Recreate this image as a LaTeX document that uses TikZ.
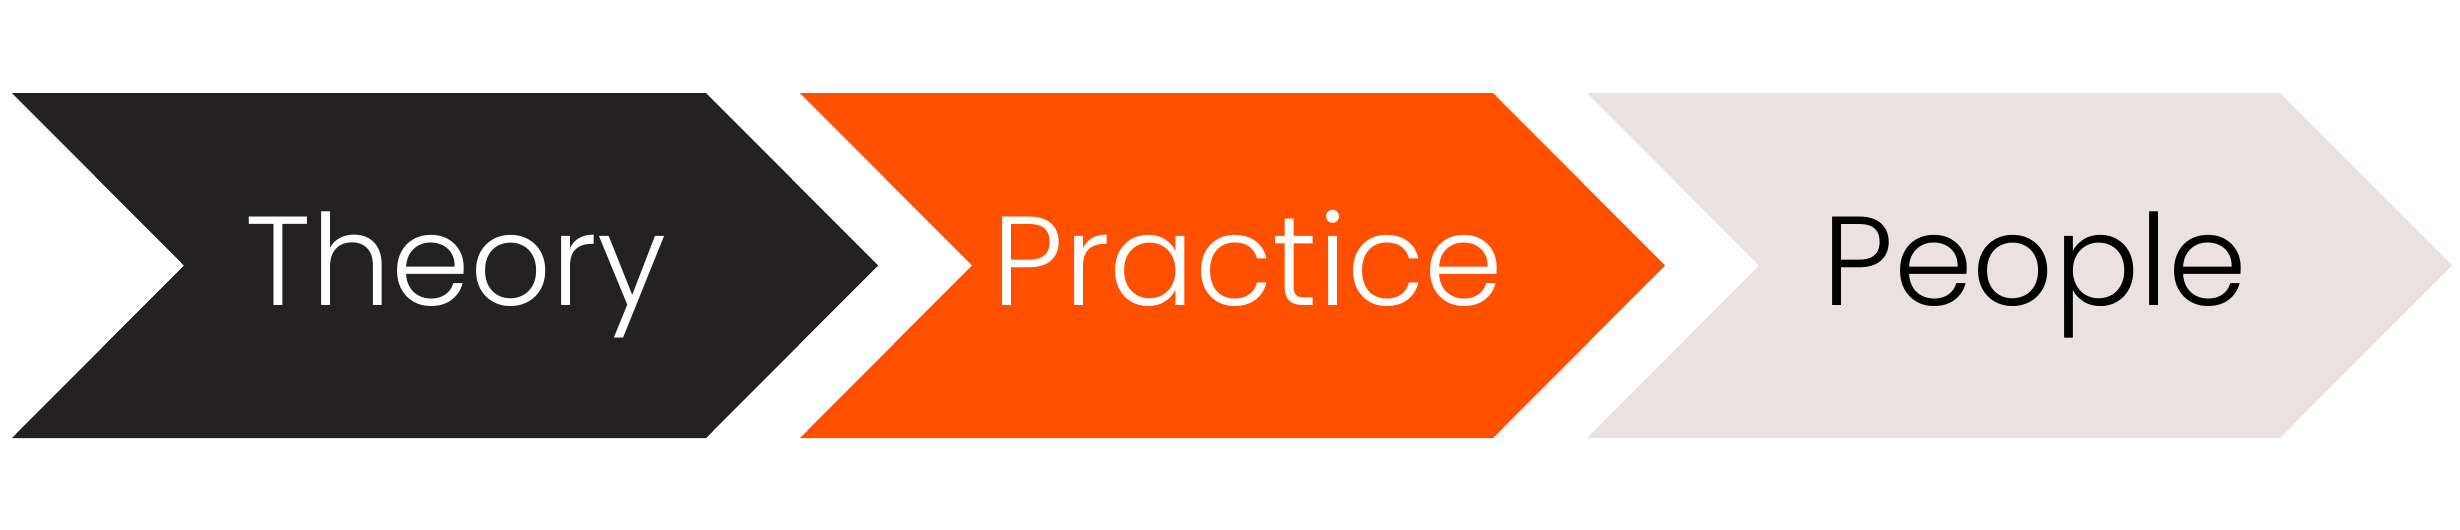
\documentclass[tikz,border=0pt]{standalone}
\usepackage{fontspec}
\newfontfamily\lblfont{Poppins}[UprightFont=* Light]
\definecolor{cdark}{HTML}{242122}
\definecolor{corange}{HTML}{FF5000}
\definecolor{clight}{HTML}{E9E2E0}
\begin{document}
\begin{tikzpicture}[x=0.01cm,y=0.01cm,
  lbl/.style={anchor=base,inner sep=0pt,font=\lblfont\fontsize{36}{40}\selectfont}]
\useasboundingbox (0,0) rectangle (2460,529);
\fill[cdark]   (12,436) -- (706,436) -- (878,263.5) -- (706,91) -- (12,91) -- (184,263.5) -- cycle;
\fill[corange] (800,436) -- (1493,436) -- (1665,263.5) -- (1493,91) -- (800,91) -- (972,263.5) -- cycle;
\fill[clight]  (1587,436) -- (2280,436) -- (2452,263.5) -- (2280,91) -- (1587,91) -- (1759,263.5) -- cycle;
\node[lbl,text=white] (theory) at (456,224) {Theory};
\node[lbl,text=white] (practice) at (1248,224) {Practice};
\node[lbl,text=black] (people) at (2035,224) {People};
\end{tikzpicture}
\end{document}
